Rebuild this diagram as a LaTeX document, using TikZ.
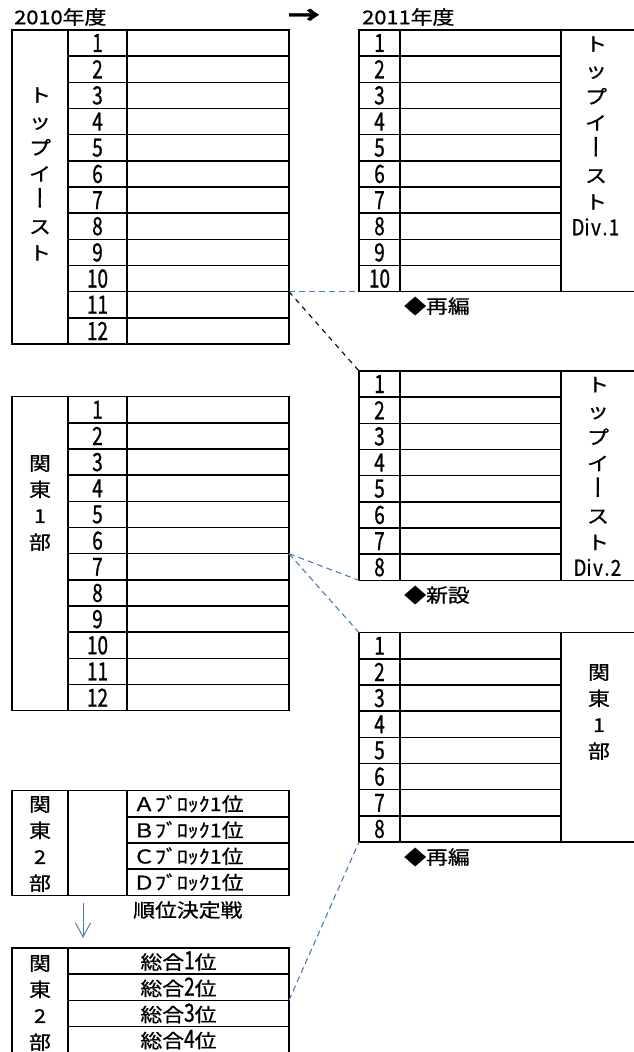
\documentclass[tikz,border=0pt]{standalone}
\usepackage{fontspec}
\setmainfont{Noto Sans CJK JP}[RawFeature={embolden=0.7}]
\newfontfamily\vjp{Noto Sans CJK JP}[RawFeature={+vert;embolden=0.7}]
\newfontfamily\dgf{Noto Sans CJK JP}[RawFeature={embolden=1.0}]
\usetikzlibrary{arrows.meta}
\definecolor{lnblue}{RGB}{74,126,187}
\newcommand\cj[1]{\scalebox{1.15}[1]{#1}}
\newcommand\dg[1]{\scalebox{0.76}[1]{\dgf\fontsize{25}{25}\selectfont #1}}
\newcommand\mc[1]{\makebox[10.6pt]{#1}}
\newcommand\vbar{\scalebox{1.15}[1.3]{\vjp ー}}
\newcommand\divlab[1]{{\dgf\fontsize{22}{22}\selectfont\scalebox{0.85}[1]{\mc{D}\mc{i}\mc{v}\mc{.}\mc{#1}}}}
\def\rh{26.17}
\begin{document}
\begin{tikzpicture}[x=1pt,y=-1pt,
  grid/.style={line width=1.5pt},
  lab/.style={inner sep=0pt, font=\fontsize{19}{26.3}\selectfont},
  vlab/.style={lab, align=center},
  num/.style={inner sep=0pt},
  conn/.style={lnblue, line width=1.1pt, dash pattern=on 6pt off 4pt},
  bconn/.style={black, line width=1.1pt, dash pattern=on 5pt off 5pt}]
\useasboundingbox (0,0) rectangle (634,1052);
\fill[white] (0,0) rectangle (634,1052);
\clip (0,0) rectangle (634,1052);

% titles
\node[lab, anchor=west] (y2010) at (14,17) {\cj{2010年度}};
\node[lab] (yarr) at (304,16.5) {\scalebox{1.7}[1.3]{\bfseries →}};
\node[lab, anchor=west] (y2011) at (362,17) {\cj{2011年度}};

% Table 1: Top East 2010
\draw[grid] (12,30) rectangle (289,344);
\draw[grid] (68,30) -- (68,344) (127,30) -- (127,344);
\foreach \i in {1,...,11} \draw[grid] (68,30+\i*\rh) -- (289,30+\i*\rh);
\foreach \i in {1,...,12} \node[num] (ta\i) at (97.5,30+\i*\rh-\rh/2) {\dg{\i}};
\node[vlab] (la) at (40,174) {\cj{ト}\\\cj{ッ}\\\cj{プ}\\\cj{イ}\\\vbar\\\cj{ス}\\\cj{ト}};

% Table 3: Kanto 1 2010
\draw[grid] (12,396.7) rectangle (289,710.7);
\draw[grid] (68,396.7) -- (68,710.7) (127,396.7) -- (127,710.7);
\foreach \i in {1,...,11} \draw[grid] (68,396.7+\i*\rh) -- (289,396.7+\i*\rh);
\foreach \i in {1,...,12} \node[num] (tc\i) at (97.5,396.7+\i*\rh-\rh/2) {\dg{\i}};
\node[vlab] (lc) at (40,503) {\cj{関}\\\cj{東}\\\cj{1}\\\cj{部}};

% Table 6: Kanto 2 blocks
\draw[grid] (12,790.7) rectangle (289,895.38);
\draw[grid] (68,790.7) -- (68,895.38) (127,790.7) -- (127,895.38);
\foreach \i in {1,2,3} \draw[grid] (127,790.7+\i*\rh) -- (289,790.7+\i*\rh);
\foreach \t [count=\i] in {Ａ,Ｂ,Ｃ,Ｄ}
  \node[lab, anchor=west] (bk\i) at (133,790.7+\i*\rh-\rh/2) {\cj{\t ﾌﾞﾛｯｸ1位}};
\node[vlab] (lf) at (40,844) {\cj{関}\\\cj{東}\\\cj{2}\\\cj{部}};
\node[lab, anchor=west] (jk) at (133,910) {\cj{順位決定戦}};
\coordinate (a0) at (83,903);
\coordinate (a1) at (83,938);
\draw[lnblue, line width=1pt, -{Straight Barb[length=14pt,width=15pt]}] (a0) -- (a1);

% Table 7: Kanto 2 overall
\draw[grid] (12,948) rectangle (289,1052.68);
\draw[grid] (68,948) -- (68,1052.68);
\foreach \i in {1,2,3} \draw[grid] (68,948+\i*\rh) -- (289,948+\i*\rh);
\foreach \i in {1,...,4}
  \node[lab] (so\i) at (178.5,948+\i*\rh-\rh/2) {\cj{総合}\dg{\i}\cj{位}};
\node[vlab] (lg) at (40,1003) {\cj{関}\\\cj{東}\\\cj{2}\\\cj{部}};

% Table 2: Top East Div.1 2011
\draw[grid] (359,30) rectangle (640,291.7);
\draw[grid] (400,30) -- (400,291.7) (561,30) -- (561,291.7);
\foreach \i in {1,...,9} \draw[grid] (359,30+\i*\rh) -- (561,30+\i*\rh);
\foreach \i in {1,...,10} \node[num] (tb\i) at (379.5,30+\i*\rh-\rh/2) {\dg{\i}};
\node[vlab] (lb) at (596,136) {\cj{ト}\\\cj{ッ}\\\cj{プ}\\\cj{イ}\\\vbar\\\cj{ス}\\\cj{ト}\\\divlab{1}};
\node[lab, anchor=west] (re1) at (404,306) {\cj{◆再編}};

% Table 4: Top East Div.2 2011
\draw[grid] (359,371) rectangle (640,580.36);
\draw[grid] (400,371) -- (400,580.36) (561,371) -- (561,580.36);
\foreach \i in {1,...,7} \draw[grid] (359,371+\i*\rh) -- (561,371+\i*\rh);
\foreach \i in {1,...,8} \node[num] (td\i) at (379.5,371+\i*\rh-\rh/2) {\dg{\i}};
\node[vlab] (ld) at (598,476.5) {\cj{ト}\\\cj{ッ}\\\cj{プ}\\\cj{イ}\\\vbar\\\cj{ス}\\\cj{ト}\\\divlab{2}};
\node[lab, anchor=west] (sn) at (404,595) {\cj{◆新設}};

% Table 5: Kanto 1 2011
\draw[grid] (359,632.7) rectangle (640,842.06);
\draw[grid] (400,632.7) -- (400,842.06) (561,632.7) -- (561,842.06);
\foreach \i in {1,...,7} \draw[grid] (359,632.7+\i*\rh) -- (561,632.7+\i*\rh);
\foreach \i in {1,...,8} \node[num] (te\i) at (379.5,632.7+\i*\rh-\rh/2) {\dg{\i}};
\node[vlab] (le) at (599,712) {\cj{関}\\\cj{東}\\\cj{1}\\\cj{部}};
\node[lab, anchor=west] (re2) at (404,857) {\cj{◆再編}};

% connectors
\coordinate (p1) at (289,291.7);
\coordinate (q1) at (359,291.7);
\coordinate (q2) at (359,371);
\coordinate (p2) at (289,553.7);
\coordinate (q3) at (359,580.36);
\coordinate (q4) at (359,632.7);
\coordinate (p3) at (289,1000.3);
\coordinate (q5) at (359,842.06);
\draw[conn] (p1) -- (q1);
\draw[bconn] (p1) -- (q2);
\draw[conn] (p2) -- (q3);
\draw[conn] (p2) -- (q4);
\draw[conn] (p3) -- (q5);
\end{tikzpicture}
\end{document}
